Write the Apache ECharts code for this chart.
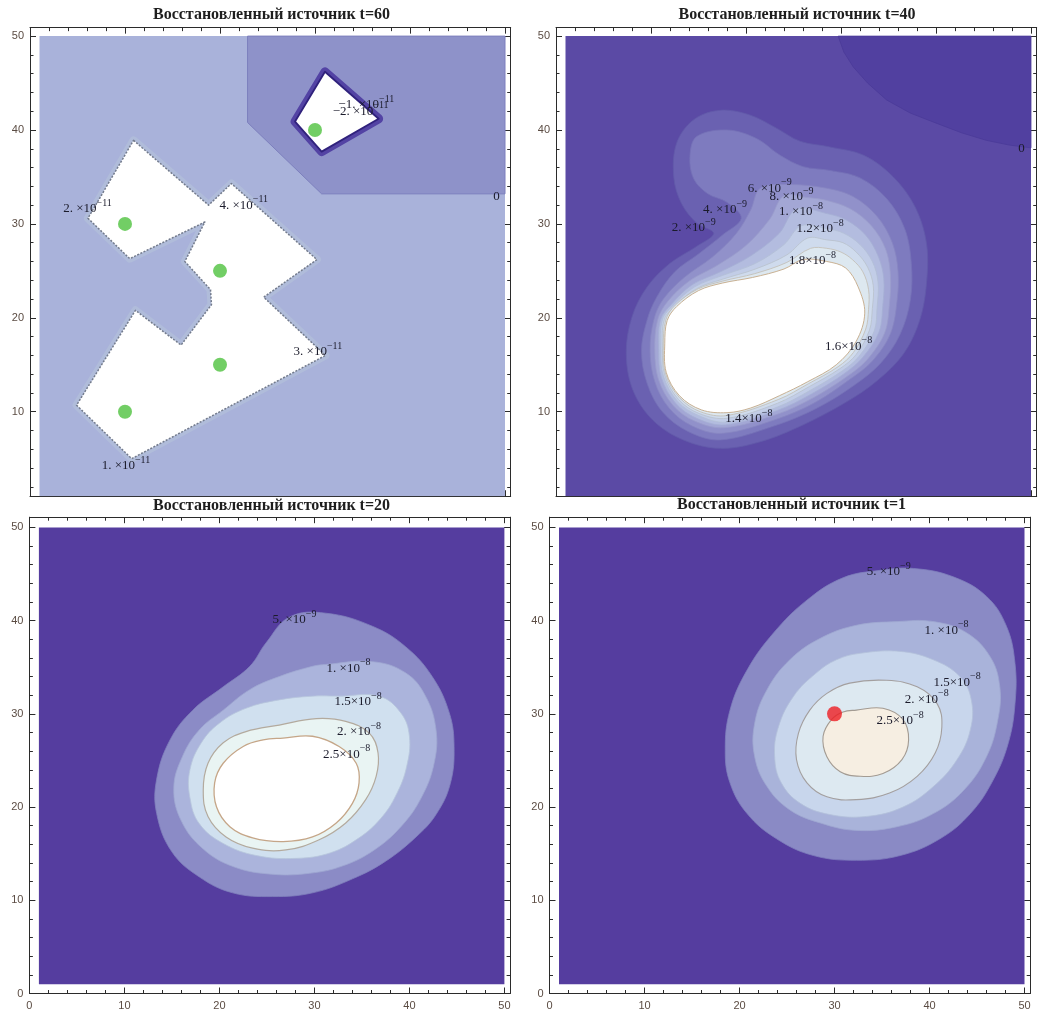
<!DOCTYPE html>
<html><head><meta charset="utf-8">
<script src="https://cdn.jsdelivr.net/npm/echarts@6/dist/echarts.min.js"></script>
<style>html,body{margin:0;padding:0;background:#fff;}#c{width:1039px;height:1015px;}</style>
</head><body><div id="c"></div>
<script>
// ---------- shared axis data ----------
const panelTitles = ['Восстановленный источник t=60','Восстановленный источник t=40','Восстановленный источник t=20','Восстановленный источник t=1'];
const majorTicks = [0,10,20,30,40,50];
const majorTicksTop = [10,20,30,40,50];
const minorTicks = [2,4,6,8,12,14,16,18,22,24,26,28,32,34,36,38,42,44,46,48];
const domain = [[1,1],[50,1],[50,50],[1,50]];

// ---------- t=60 ----------
const t60Shelf = [[22.9,50],[22.9,40.8],[30.7,33.2],[50,33.2],[50,50]];
const t60Plateau = [[10.9,38.9],[18.8,32.0],[21.2,34.3],[30.2,26.2],[24.6,22.2],[31.1,16.0],[10.7,5.0],[4.9,10.7],[11.1,20.8],[15.9,17.1],[19.1,21.4],[19.0,23.0],[16.3,26.0],[18.4,30.2],[10.5,26.3],[6.1,30.6]];
const t60Pit = [[31.05,46.2],[36.7,41.2],[30.7,37.7],[27.9,40.9]];
const t60Sources = [[10,30],[20,25],[10,10],[20,15],[30,40]];
const t60LabelPos = [[6.05,31.85],[22.5,32.2],[30.3,16.6],[10.1,4.5],[35.4,42.9],[34.8,42.2],[49.1,33.1]];
const t60LabelMant = ['2.','4.','3.','1.','−1.','−2.','0'];
const t60LabelExp = ['−11','−11','−11','−11','−11','−11',''];

// ---------- t=40 ----------
const t40Corner = [[29.7,50],[30.3,48.3],[31.3,46.7],[32.8,45.0],[34.8,43.2],[37.3,41.8],[40.1,40.7],[42.7,39.7],[45.3,38.9],[47.7,38.4],[50,38.1],[50,50]];
const t40L2 = [[12.4,35.0],[12.7,38.6],[14.5,41.1],[17.3,42.1],[20.4,41.6],[23.2,40.2],[25.7,38.8],[28.8,38.2],[32.4,37.3],[35.5,35.0],[37.8,31.8],[39.0,27.9],[39.0,23.7],[38.3,19.8],[36.6,16.2],[33.8,13.3],[30.5,11.0],[26.0,8.6],[21.5,6.8],[17.3,6.1],[13.4,7.0],[10.2,9.1],[8.1,12.3],[7.4,16.2],[8.0,20.1],[9.6,23.3],[12.0,25.8],[14.8,27.6],[16.6,29.0],[14.8,30.1],[13.2,32.2]];
const t40L4 = [[14.1,37.2],[14.8,39.3],[18.0,40.0],[21.1,39.1],[23.6,37.3],[26.0,36.1],[28.8,35.7],[32.0,34.9],[34.8,32.7],[36.7,29.5],[37.4,25.8],[37.3,21.9],[36.2,18.2],[34.2,15.2],[31.5,12.9],[27.5,10.4],[23.0,8.5],[17.3,7.0],[13.9,7.9],[11.2,10.0],[9.6,13.0],[9.0,16.5],[9.6,19.8],[10.6,22.2],[12.5,24.9],[15.0,26.8],[17.5,28.8],[19.5,30.6],[18.0,32.3],[16.0,33.2],[14.5,34.8]];
const t40L6 = [[21.5,33.8],[24.5,34.2],[28.5,33.8],[31.3,32.9],[33.8,30.8],[35.4,28.0],[36.0,25.0],[35.9,21.8],[35.2,18.3],[33.3,15.4],[31.0,13.5],[27.3,11.0],[23.2,9.2],[17.5,7.7],[14.3,8.5],[11.9,10.4],[10.4,13.2],[9.9,16.5],[10.3,19.8],[11.3,22.0],[13.5,24.3],[16.5,26.5],[19.0,29.0],[20.5,31.5]];
const t40L8 = [[24.0,33.0],[26.5,32.8],[28.5,32.5],[31.0,31.6],[33.2,29.8],[34.7,27.3],[35.2,24.6],[35.1,21.5],[34.6,18.4],[32.8,15.6],[30.7,13.8],[27.1,11.5],[23.2,9.7],[17.7,8.3],[14.6,9.0],[12.3,10.7],[10.8,13.4],[10.4,16.5],[10.7,19.8],[11.8,21.8],[14.0,23.9],[17.0,25.6],[20.0,27.7],[22.5,30.5]];
const t40L10 = [[25.3,31.6],[28.5,31.1],[30.6,30.4],[32.6,28.8],[33.9,26.6],[34.5,24.2],[34.4,21.3],[34.0,18.5],[32.3,15.8],[30.4,14.1],[26.9,11.9],[23.2,10.1],[17.8,8.6],[14.8,9.3],[12.6,10.9],[11.1,13.6],[10.8,16.5],[11.0,19.8],[12.2,21.5],[14.3,23.5],[17.3,24.9],[20.5,26.6],[23.5,29.0]];
const t40L12 = [[25.8,29.8],[28.5,29.5],[30.3,29.0],[32.0,27.8],[33.3,26.0],[33.9,23.8],[33.8,21.1],[33.5,18.6],[31.9,15.9],[30.2,14.4],[26.8,12.3],[23.3,10.5],[17.9,8.9],[15.0,9.6],[12.8,11.1],[11.3,13.8],[11.0,16.6],[11.2,19.8],[12.4,21.4],[14.6,23.3],[17.5,24.5],[21.0,25.8],[24.0,27.8]];
const t40L14 = [[26.5,28.5],[28.5,28.3],[30.2,28.0],[31.6,27.0],[32.8,25.4],[33.4,23.4],[33.3,21.0],[33.0,18.7],[31.6,16.1],[29.9,14.6],[26.7,12.7],[23.3,10.9],[18.0,9.3],[15.1,9.8],[12.9,11.3],[11.45,13.9],[11.2,16.7],[11.4,19.8],[12.6,21.3],[14.8,23.1],[17.5,24.1],[21.0,25.2],[24.3,26.7]];
const t40L16 = [[26.8,27.4],[28.5,27.4],[30.0,27.0],[31.2,26.2],[32.3,24.9],[32.9,23.0],[32.9,20.9],[32.6,18.8],[31.3,16.3],[29.7,14.8],[26.6,13.0],[23.4,11.3],[18.0,9.6],[15.2,10.0],[13.0,11.5],[11.55,14.0],[11.3,16.9],[11.55,19.75],[12.55,21.35],[14.9,23.05],[17.5,23.9],[20.9,24.7],[24.3,25.9]];
const t40L18 = [[26.0,26.2],[28.5,26.0],[30.5,25.3],[31.8,23.3],[32.5,20.5],[31.6,17.5],[29.5,15.0],[26.5,13.2],[23.5,11.7],[20.5,10.4],[18.0,9.9],[15.3,10.2],[13.0,11.7],[11.6,14.2],[11.45,17.3],[11.7,19.7],[12.7,21.2],[15.0,22.9],[17.5,23.7],[20.7,24.3],[24.0,25.2]];
const t40LabelPos = [[14.5,29.8],[17.8,31.7],[22.5,34.0],[24.8,33.1],[25.8,31.5],[27.8,29.7],[27.0,26.3],[30.8,17.2],[20.3,9.5],[49.0,38.2]];
const t40LabelMant = ['2.','4.','6.','8.','1.','1.2','1.8','1.6','1.4','0'];
const t40LabelExp = ['−9','−9','−9','−9','−8','−8','−8','−8','−8',''];

// ---------- t=20 ----------
const t20L5 = [[27.4,40.4],[31.2,40.8],[36.1,39.4],[39.6,37.2],[42.4,34.0],[44.2,30.1],[44.7,26.5],[44.3,22.5],[42.8,19.2],[40.7,16.8],[37.5,14.2],[34.0,12.3],[29.8,10.8],[25.6,10.4],[21.4,10.8],[17.9,12.5],[15.0,15.2],[13.4,19.3],[13.4,23.0],[14.8,27.2],[17.2,30.4],[20.4,32.9],[23.2,35.1],[24.9,37.6]];
const t20L10 = [[31.2,35.3],[36.1,35.6],[39.6,34.4],[41.7,31.9],[42.8,28.3],[42.6,24.7],[41.3,21.1],[39.2,18.0],[36.3,15.4],[33.0,13.7],[29.5,12.9],[25.5,12.8],[21.5,13.6],[18.3,15.5],[16.0,18.5],[15.2,22.0],[16.1,25.4],[17.9,28.3],[20.4,30.4],[23.2,32.6],[26.3,34.0],[29.8,35.1]];
const t20L15 = [[32.6,31.9],[36.8,31.9],[39.1,30.1],[40.0,27.6],[39.7,24.3],[38.6,21.3],[37.0,18.8],[34.7,16.7],[31.7,15.1],[28.1,14.5],[23.9,14.8],[20.4,16.1],[17.9,18.2],[16.9,21.0],[16.9,24.0],[18.1,26.9],[20.0,29.0],[22.8,30.6],[26.3,31.5],[29.8,31.9]];
const t20L20 = [[26.3,28.8],[30.2,29.5],[33.3,29.2],[35.8,27.9],[36.7,25.8],[36.5,23.3],[35.4,20.8],[33.3,18.3],[30.5,16.5],[27.0,15.4],[23.5,15.6],[20.7,16.8],[18.8,19.0],[18.3,21.8],[18.8,24.7],[20.4,26.9],[22.8,28.1]];
const t20L25 = [[26.7,27.4],[29.8,27.6],[32.6,26.5],[34.4,24.7],[34.7,22.6],[34.0,20.4],[32.3,18.3],[29.8,16.8],[26.7,16.3],[23.5,16.7],[21.1,17.9],[19.7,20.0],[19.5,22.6],[20.4,24.7],[22.5,26.5],[24.6,27.2]];
const t20LabelPos = [[27.9,40.3],[33.6,35.1],[34.6,31.5],[34.7,28.3],[33.4,25.9]];
const t20LabelMant = ['5.','1.','1.5','2.','2.5'];
const t20LabelExp = ['−9','−8','−8','−8','−8'];

// ---------- t=1 ----------
const t1L5 = [[34.8,45.4],[38.3,45.6],[42.5,44.7],[46.0,42.6],[48.1,39.4],[49.0,35.4],[49.0,31.1],[48.3,26.9],[46.7,22.9],[44.3,19.3],[41.1,16.6],[36.9,14.8],[32.3,14.3],[27.8,14.8],[23.9,16.6],[20.8,19.3],[19.0,22.6],[18.5,26.1],[19.0,30.4],[20.8,34.7],[23.6,38.7],[27.1,42.2],[30.9,44.6]];
const t1L10 = [[36.6,39.9],[40.4,39.9],[43.9,38.7],[46.4,36.1],[47.4,32.9],[47.2,29.4],[46.0,25.4],[43.6,21.8],[40.4,19.3],[36.6,17.9],[32.3,17.5],[28.5,18.3],[25.3,19.7],[22.9,22.2],[21.6,25.4],[21.6,29.0],[22.9,32.6],[25.3,35.8],[28.5,38.1],[32.3,39.5]];
const t1L15 = [[32.7,36.5],[36.9,36.7],[40.4,35.8],[43.2,34.0],[44.4,31.5],[44.3,28.3],[42.9,25.1],[40.4,22.2],[37.2,20.0],[33.4,19.0],[29.5,19.2],[26.4,20.4],[24.4,22.6],[23.7,25.4],[24.1,28.6],[25.7,31.9],[28.1,34.4],[30.2,35.8]];
const t1L20 = [[31.6,33.3],[35.5,33.6],[38.7,32.9],[40.8,31.1],[41.3,28.6],[40.6,25.8],[38.7,23.3],[35.8,21.5],[32.3,20.8],[29.2,21.1],[27.1,22.6],[26.0,25.1],[26.2,27.9],[27.4,30.4],[29.2,32.2]];
const t1L25 = [[32.3,30.4],[35.1,30.6],[37.2,29.4],[37.8,27.2],[37.1,25.1],[35.1,23.6],[32.7,23.3],[30.6,23.8],[29.2,25.4],[28.8,27.6],[29.7,29.4],[30.9,30.2]];
const t1Source = [[30,30]];
const t1LabelPos = [[35.7,45.5],[41.8,39.2],[42.9,33.6],[39.7,31.8],[36.9,29.5]];
const t1LabelMant = ['5.','1.','1.5','2.','2.5'];
const t1LabelExp = ['−9','−8','−8','−8','−8'];

// ---------- layout (pixels) ----------
const layout = [
  {left:30,   top:27.65, width:480.7, height:468.6, ymin:1, ymax:50.9, xLab:false, yLab:majorTicksTop, title:[271.5,15]},
  {left:556,  top:27.65, width:480.7, height:468.6, ymin:1, ymax:50.9, xLab:false, yLab:majorTicksTop, title:[797,15]},
  {left:29.4, top:517.2, width:480.7, height:476.3, ymin:0, ymax:51.1, xLab:true,  yLab:majorTicks,    title:[271.5,505.5]},
  {left:549.5,top:517.2, width:480.7, height:476.3, ymin:0, ymax:51.1, xLab:true,  yLab:majorTicks,    title:[791.5,505]}
];

// ---------- layer styles ----------
const layers = [
  [
    {pts:domain, fill:'#a9b2da'},
    {pts:t60Shelf, fill:'#8e92c9', stroke:'#7c7fbd', lw:1},
    {pts:t60Plateau, fill:'#ffffff', halo:'#b0bcda', haloW:8, stroke:'#737b8c', lw:1.5, dash:[2,1.5]},
    {pts:t60Pit, fill:'#ffffff', halo:'#5343a4', haloW:9, stroke:'#30227c', lw:1.8}
  ],
  [
    {pts:domain, fill:'#5b4aa5'},
    {pts:t40Corner, fill:'#5140a0', stroke:'#4a3a98', lw:0.8},
    {pts:t40L2, fill:'#6a61b1', stroke:'#625aaa', lw:0.8, smooth:0.35},
    {pts:t40L4, fill:'#7e7bbf', stroke:'#7672b8', lw:0.8, smooth:0.35},
    {pts:t40L6, fill:'#9191ca', stroke:'#8886c2', lw:0.8, smooth:0.35},
    {pts:t40L8, fill:'#a3a7d5', stroke:'#9a9dcc', lw:0.8, smooth:0.35},
    {pts:t40L10, fill:'#b3bcdf', stroke:'#a6b0d4', lw:0.8, smooth:0.35},
    {pts:t40L12, fill:'#c2cde7', stroke:'#b3bfd6', lw:0.8, smooth:0.35},
    {pts:t40L14, fill:'#cfdbed', stroke:'#b9c2cc', lw:0.8, smooth:0.35},
    {pts:t40L16, fill:'#dde8f0', stroke:'#c2bdb2', lw:0.8, smooth:0.35},
    {pts:t40L18, fill:'#ffffff', stroke:'#c9b193', lw:1, smooth:0.35}
  ],
  [
    {pts:domain, fill:'#553d9f'},
    {pts:t20L5, fill:'#8b8bc6', stroke:'#8080bd', lw:0.8, smooth:0.4},
    {pts:t20L10, fill:'#abb4dc', stroke:'#9fa8d2', lw:0.8, smooth:0.4},
    {pts:t20L15, fill:'#d0e0ef', stroke:'#b8c7dc', lw:0.8, smooth:0.4},
    {pts:t20L20, fill:'#e9f4f3', stroke:'#b3aa9e', lw:1.2, smooth:0.4},
    {pts:t20L25, fill:'#ffffff', stroke:'#c5a688', lw:1.3, smooth:0.4}
  ],
  [
    {pts:domain, fill:'#553d9f'},
    {pts:t1L5, fill:'#8a8ac5', stroke:'#7f7fbc', lw:0.8, smooth:0.4},
    {pts:t1L10, fill:'#a9b3da', stroke:'#9ea7d0', lw:0.8, smooth:0.4},
    {pts:t1L15, fill:'#c8d6ec', stroke:'#b4c2da', lw:0.8, smooth:0.4},
    {pts:t1L20, fill:'#dde9f1', stroke:'#a39f9f', lw:1.1, smooth:0.4},
    {pts:t1L25, fill:'#f6eee2', stroke:'#a39b93', lw:1.1, smooth:0.4}
  ]
];
const labelSets = [
  [t60LabelPos, t60LabelMant, t60LabelExp],
  [t40LabelPos, t40LabelMant, t40LabelExp],
  [t20LabelPos, t20LabelMant, t20LabelExp],
  [t1LabelPos, t1LabelMant, t1LabelExp]
];

// ---------- build option ----------
const grids = [], xAxes = [], yAxes = [], series = [];
const frameColor = '#2b2b2b';
const tickLab = {fontSize:11, color:'#5b4c43', fontFamily:'Liberation Sans'};

layout.forEach((L, g) => {
  grids.push({left:L.left, top:L.top, width:L.width, height:L.height, containLabel:false});
  const xb = {type:'value', gridIndex:g, min:0, max:50.6, splitLine:{show:false}};
  ['bottom','top'].forEach(pos => {
    xAxes.push(Object.assign({}, xb, {position:pos,
      axisLine:{show:true, onZero:false, lineStyle:{color:frameColor, width:1}},
      axisTick:{show:true, inside:true, length:6, customValues:majorTicks, lineStyle:{color:frameColor}},
      axisLabel:(pos==='bottom' && L.xLab) ? Object.assign({show:true, margin:7, customValues:majorTicks}, tickLab) : {show:false}}));
    xAxes.push(Object.assign({}, xb, {position:pos,
      axisLine:{show:false, onZero:false},
      axisTick:{show:true, inside:true, length:3.5, customValues:minorTicks, lineStyle:{color:frameColor}},
      axisLabel:{show:false}}));
  });
  const yb = {type:'value', gridIndex:g, min:L.ymin, max:L.ymax, splitLine:{show:false}};
  ['left','right'].forEach(pos => {
    yAxes.push(Object.assign({}, yb, {position:pos,
      axisLine:{show:true, onZero:false, lineStyle:{color:frameColor, width:1}},
      axisTick:{show:true, inside:true, length:6, customValues:L.yLab, lineStyle:{color:frameColor}},
      axisLabel:(pos==='left') ? Object.assign({show:true, margin:6, customValues:L.yLab}, tickLab) : {show:false}}));
    yAxes.push(Object.assign({}, yb, {position:pos,
      axisLine:{show:false, onZero:false},
      axisTick:{show:true, inside:true, length:3.5, customValues:minorTicks, lineStyle:{color:frameColor}},
      axisLabel:{show:false}}));
  });

  const lay = layers[g];
  series.push({
    type:'custom', coordinateSystem:'cartesian2d', xAxisIndex:g*4, yAxisIndex:g*4,
    clip:true, silent:true, z:1,
    data: lay.map((l, i) => [l.pts[0][0], l.pts[0][1], i]),
    renderItem: (params, api) => {
      const l = lay[params.dataIndex];
      const pts = l.pts.map(p => api.coord(p));
      const sm = l.smooth || 0;
      const children = [];
      if (l.halo) children.push({type:'polygon', shape:{points:pts, smooth:sm}, style:{fill:null, stroke:l.halo, lineWidth:l.haloW, lineJoin:'round'}});
      children.push({type:'polygon', shape:{points:pts, smooth:sm}, style:{fill:l.fill, stroke:null, lineWidth:0}});
      if (l.stroke) children.push({type:'polygon', shape:{points:pts, smooth:sm}, style:{fill:null, stroke:l.stroke, lineWidth:l.lw, lineJoin:'round', lineDash:l.dash || null}});
      return {type:'group', children};
    }
  });

  if (g === 0) series.push({type:'scatter', xAxisIndex:0, yAxisIndex:0, data:t60Sources, symbolSize:14, itemStyle:{color:'#4fc23f'}, silent:true, z:4});
  if (g === 3) series.push({type:'scatter', xAxisIndex:12, yAxisIndex:12, data:t1Source, symbolSize:15, itemStyle:{color:'#ee1d23'}, silent:true, z:4});

  const [pos, mant, ex] = labelSets[g];
  series.push({
    type:'custom', coordinateSystem:'cartesian2d', xAxisIndex:g*4, yAxisIndex:g*4,
    clip:false, silent:true, z:6,
    data: pos.map((p, i) => [p[0], p[1], i]),
    renderItem: (params, api) => {
      const i = params.dataIndex;
      const c = api.coord(pos[i]);
      const sep = mant[i].endsWith('.') ? ' ×10' : '×10';
      const txt = ex[i] ? '{m|' + mant[i] + sep + '}{e|' + ex[i] + '}' : '{m|' + mant[i] + '}';
      return {type:'text', x:c[0], y:c[1], style:{
        text: txt, align:'center', verticalAlign:'middle',
        rich:{
          m:{fontSize:13, fontFamily:'Liberation Serif', fill:'#1b1b2b', lineHeight:17, verticalAlign:'bottom'},
          e:{fontSize:10, fontFamily:'Liberation Serif', fill:'#1b1b2b', lineHeight:9, verticalAlign:'top'}
        }
      }};
    }
  });
});

const option = {
  animation:false,
  backgroundColor:'#ffffff',
  grid:grids, xAxis:xAxes, yAxis:yAxes, series:series,
  graphic: layout.map((L, i) => ({type:'text', x:L.title[0], y:L.title[1], z:10, style:{
    text:panelTitles[i], font:'bold 16px "Liberation Serif"', fill:'#1e1e1e',
    align:'center', verticalAlign:'middle', textAlign:'center', textVerticalAlign:'middle'}}))
};
const chart = echarts.init(document.getElementById('c'), null, {renderer:'canvas', width:1039, height:1015});
chart.setOption(option);
</script></body></html>
